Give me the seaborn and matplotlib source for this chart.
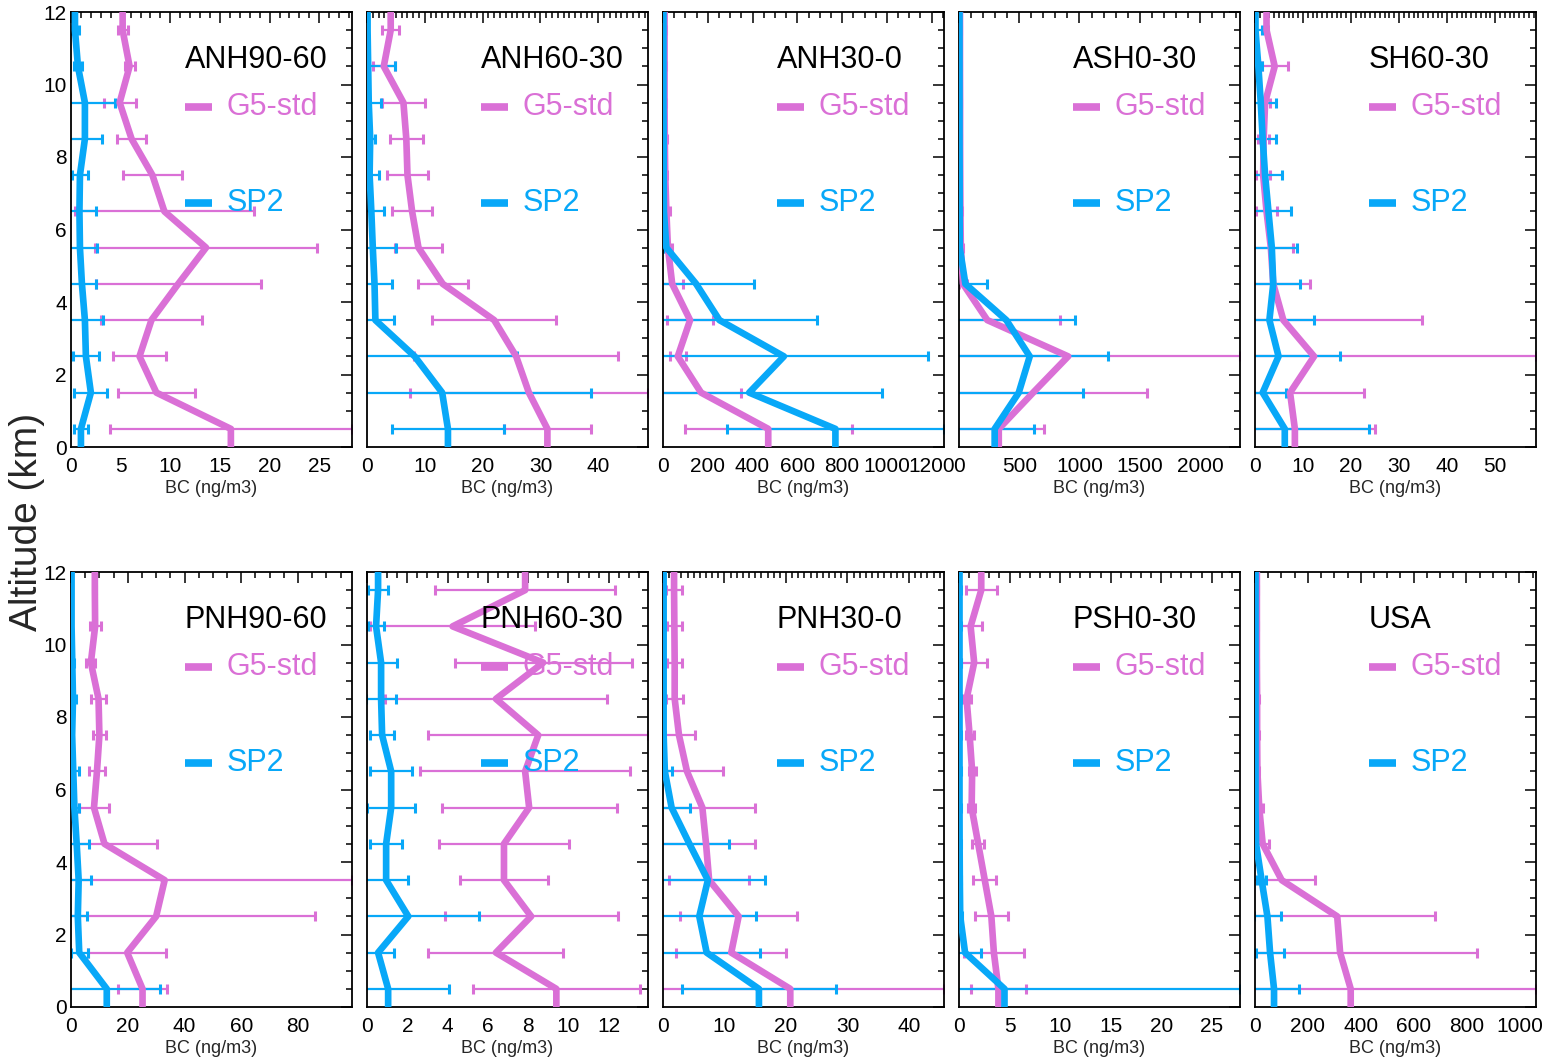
import matplotlib
matplotlib.use("Agg")
import matplotlib.pyplot as plt
from matplotlib.ticker import MultipleLocator, AutoMinorLocator
import pandas as pd
import seaborn as sns

# Altitude bin centres (km), bottom to top
ALT_KM = [0.5, 1.5, 2.5, 3.5, 4.5, 5.5, 6.5, 7.5, 8.5, 9.5, 10.5, 11.5]

REGIONS = ["ANH90-60", "ANH60-30", "ANH30-0", "ASH0-30", "SH60-30",
           "PNH90-60", "PNH60-30", "PNH30-0", "PSH0-30", "USA"]

# ---- GEOS-5 standard run: mean and standard deviation (ng/m3) ----
G5_ANH90_60 = [16.1, 8.6, 6.9, 8.1, 10.8, 13.6, 9.4, 8.2, 6.1, 4.9, 5.9, 5.2]
G5_ANH90_60_SD = [12.2, 3.9, 2.65, 5.1, 8.3, 11.2, 9.0, 3.0, 1.5, 1.6, 0.5, 0.5]
G5_ANH60_30 = [31.2, 28.0, 25.8, 22.0, 13.1, 8.9, 7.8, 7.0, 6.8, 6.3, 2.9, 4.1]
G5_ANH60_30_SD = [7.5, 20.6, 17.6, 10.75, 4.35, 4.0, 3.5, 3.5, 2.9, 3.7, 1.9, 1.5]
G5_ANH30_0 = [470, 170, 66, 121, 41, 22, 15, 10, 8, 7, 7, 7]
G5_ANH30_0_SD = [372, 178, 35, 104, 48, 20, 15, 10, 8, 7, 7, 7]
G5_ASH0_30 = [330, 615, 906, 235, 33, 15, 12, 10, 9, 9, 8, 8]
G5_ASH0_30_SD = [376, 947, 1426, 601, 30, 15, 10, 10, 8, 8, 8, 8]
G5_SH60_30 = [8.3, 7.3, 12.3, 5.9, 3.8, 3.3, 2.4, 1.7, 1.8, 2.1, 4.1, 2.4]
G5_SH60_30_SD = [16.7, 15.4, 46.2, 28.8, 7.7, 4.7, 2.1, 1.4, 1.1, 1.0, 2.7, 0.3]
G5_PNH90_60 = [25.2, 19.8, 30.0, 33.0, 11.8, 8.1, 9.15, 10.0, 9.7, 7.0, 8.5, 8.4]
G5_PNH90_60_SD = [8.5, 13.7, 55.9, 66.0, 18.4, 5.2, 2.95, 2.2, 2.6, 1.6, 1.9, 0.3]
G5_PNH60_30 = [9.4, 6.4, 8.15, 6.8, 6.8, 8.05, 7.85, 8.5, 6.4, 8.75, 4.25, 7.85]
G5_PNH60_30_SD = [4.15, 3.35, 4.3, 2.2, 3.25, 4.35, 5.2, 5.45, 5.5, 4.4, 4.1, 4.45]
G5_PNH30_0 = [20.7, 11.1, 12.3, 7.5, 7.0, 6.4, 3.9, 2.6, 1.9, 1.9, 1.85, 1.8]
G5_PNH30_0_SD = [25.0, 8.95, 9.5, 6.5, 7.9, 8.5, 5.9, 2.6, 1.4, 1.2, 1.2, 1.3]
G5_PSH0_30 = [3.9, 3.45, 3.2, 2.55, 1.9, 1.25, 1.3, 1.05, 0.75, 1.5, 1.15, 2.2]
G5_PSH0_30_SD = [2.7, 3.0, 1.6, 1.15, 0.6, 0.35, 0.35, 0.4, 0.45, 1.3, 1.1, 1.55]
G5_USA = [362, 322, 311, 101, 29, 16, 9, 8, 8, 7, 7, 7]
G5_USA_SD = [701, 519, 370, 126, 25, 13, 8, 6, 6, 5, 5, 5]

# ---- SP2 observations: mean and standard deviation (ng/m3) ----
SP2_ANH90_60 = [1.0, 2.0, 1.5, 1.4, 1.1, 0.9, 0.85, 0.9, 1.4, 1.4, 0.7, 0.4]
SP2_ANH90_60_SD = [0.7, 1.65, 1.3, 1.8, 1.4, 1.7, 1.65, 0.8, 1.7, 3.0, 0.4, 0.4]
SP2_ANH60_30 = [14.0, 13.0, 8.25, 1.45, 1.3, 1.0, 0.75, 0.45, 0.55, 0.3, 0.2, 0.1]
SP2_ANH60_30_SD = [9.7, 25.7, 17.7, 3.2, 3.0, 4.1, 2.2, 1.55, 0.75, 2.2, 4.7, 0.1]
SP2_ANH30_0 = [770, 385, 540, 252, 148, 15, 4, 3, 3, 2, 2, 2]
SP2_ANH30_0_SD = [485, 593, 642, 437, 259, 12, 4, 3, 3, 2, 2, 2]
SP2_ASH0_30 = [296, 496, 587, 393, 53, 6, 5, 5, 4, 4, 4, 4]
SP2_ASH0_30_SD = [327, 529, 646, 568, 182, 6, 5, 5, 4, 4, 4, 4]
SP2_SH60_30 = [6.2, 1.6, 4.9, 3.0, 3.8, 3.5, 2.8, 2.1, 1.6, 1.2, 0.7, 0.1]
SP2_SH60_30_SD = [17.6, 4.9, 12.7, 9.3, 5.6, 5.2, 4.6, 3.5, 2.8, 3.2, 0.7, 1.3]
SP2_PNH90_60 = [12.6, 2.9, 2.4, 2.7, 2.0, 1.2, 0.8, 0.4, 0.7, 0.45, 0.2, 0.2]
SP2_PNH90_60_SD = [18.6, 3.0, 3.1, 4.4, 4.2, 1.7, 2.0, 0.3, 1.0, 0.6, 0.2, 0.2]
SP2_PNH60_30 = [1.05, 0.55, 2.05, 0.95, 0.95, 1.2, 1.2, 0.75, 0.7, 0.7, 0.45, 0.55]
SP2_PNH60_30_SD = [3.0, 0.8, 3.5, 1.1, 0.8, 1.2, 1.05, 0.6, 0.75, 0.8, 0.4, 0.5]
SP2_PNH30_0 = [15.6, 7.1, 5.9, 7.3, 4.3, 1.4, 0.3, 0.1, 0.1, 0.1, 0.1, 0.1]
SP2_PNH30_0_SD = [12.5, 8.7, 9.3, 9.3, 6.5, 2.95, 1.2, 0.2, 0.2, 0.2, 0.2, 0.2]
SP2_PSH0_30 = [4.5, 0.6, 0.12, 0.08, 0.06, 0.05, 0.05, 0.05, 0.05, 0.05, 0.05, 0.05]
SP2_PSH0_30_SD = [23.3, 1.55, 0.2, 0.1, 0.1, 0.1, 0.1, 0.1, 0.1, 0.1, 0.1, 0.1]
SP2_USA = [72, 57, 47, 25, 4, 2, 2, 2, 2, 2, 2, 2]
SP2_USA_SD = [96, 53, 50, 17, 4, 2, 2, 2, 2, 2, 2, 2]

G5_MEANS = [G5_ANH90_60, G5_ANH60_30, G5_ANH30_0, G5_ASH0_30, G5_SH60_30,
            G5_PNH90_60, G5_PNH60_30, G5_PNH30_0, G5_PSH0_30, G5_USA]
G5_SDS = [G5_ANH90_60_SD, G5_ANH60_30_SD, G5_ANH30_0_SD, G5_ASH0_30_SD, G5_SH60_30_SD,
          G5_PNH90_60_SD, G5_PNH60_30_SD, G5_PNH30_0_SD, G5_PSH0_30_SD, G5_USA_SD]
SP2_MEANS = [SP2_ANH90_60, SP2_ANH60_30, SP2_ANH30_0, SP2_ASH0_30, SP2_SH60_30,
             SP2_PNH90_60, SP2_PNH60_30, SP2_PNH30_0, SP2_PSH0_30, SP2_USA]
SP2_SDS = [SP2_ANH90_60_SD, SP2_ANH60_30_SD, SP2_ANH30_0_SD, SP2_ASH0_30_SD, SP2_SH60_30_SD,
           SP2_PNH90_60_SD, SP2_PNH60_30_SD, SP2_PNH30_0_SD, SP2_PSH0_30_SD, SP2_USA_SD]

# x-axis tick spacing and number of minor intervals per panel
X_MAJOR_STEP = [5, 10, 200, 500, 10, 20, 2, 10, 5, 200]
X_MINOR_DIV = [5, 10, 4, 5, 10, 4, 4, 10, 5, 4]

G5_COLOR = "#DA70D6"
SP2_COLOR = "#08A8F8"

sns.set_style("white")
plt.rcParams["font.family"] = ["Liberation Sans", "DejaVu Sans"]

W, H = 1545, 1060
fig = plt.figure(figsize=(W / 100, H / 100), dpi=100)

col_left = [71, 367, 663, 959, 1255]
ax_w = 281
row_top = [12, 572]
ax_h = 435


def profile_frame(values):
    """Extend a binned profile to the surface and to the 12 km lid."""
    alt = [0.0] + ALT_KM + [12.0]
    bc = [values[0]] + list(values) + [values[-1]]
    return pd.DataFrame({"alt": alt, "bc": bc})


for i, region in enumerate(REGIONS):
    r, c = divmod(i, 5)
    ax = fig.add_axes([col_left[c] / W, 1 - (row_top[r] + ax_h) / H, ax_w / W, ax_h / H])

    g5, g5sd = G5_MEANS[i], G5_SDS[i]
    sp, spsd = SP2_MEANS[i], SP2_SDS[i]

    # horizontal +/- 1 sigma bars
    ax.errorbar(g5, ALT_KM, xerr=g5sd, fmt="none", ecolor=G5_COLOR,
                elinewidth=1.6, capsize=3.5, capthick=2.2, zorder=2)
    ax.errorbar(sp, ALT_KM, xerr=spsd, fmt="none", ecolor=SP2_COLOR,
                elinewidth=1.6, capsize=3.5, capthick=2.2, zorder=2.5)

    # mean profiles
    sns.lineplot(data=profile_frame(g5), x="bc", y="alt", orient="y", sort=False,
                 estimator=None, color=G5_COLOR, lw=4.8, ax=ax, zorder=3,
                 solid_capstyle="butt")
    sns.lineplot(data=profile_frame(sp), x="bc", y="alt", orient="y", sort=False,
                 estimator=None, color=SP2_COLOR, lw=4.8, ax=ax, zorder=3.5,
                 solid_capstyle="butt")

    xmax = max(max(m + s for m, s in zip(g5, g5sd)),
               max(m + s for m, s in zip(sp, spsd)))
    ax.set_xlim(0, xmax)
    ax.set_ylim(0, 12)

    ax.xaxis.set_major_locator(MultipleLocator(X_MAJOR_STEP[i]))
    ax.xaxis.set_minor_locator(AutoMinorLocator(X_MINOR_DIV[i]))
    ax.yaxis.set_major_locator(MultipleLocator(2))
    ax.yaxis.set_minor_locator(AutoMinorLocator(4))
    ax.tick_params(which="both", direction="in", top=True, right=True,
                   width=1.1, colors="black")
    ax.tick_params(which="major", length=8)
    ax.tick_params(which="minor", length=4)
    ax.tick_params(axis="x", which="major", labelsize=15, pad=7)
    ax.tick_params(axis="y", which="major", labelsize=15, pad=3)
    if c != 0:
        ax.tick_params(axis="y", labelleft=False)

    ax.set_xlabel("BC (ng/m3)", fontsize=13, labelpad=3)
    ax.set_ylabel("")
    for sp_ in ax.spines.values():
        sp_.set_color("black")
        sp_.set_linewidth(1.3)

    # region name and in-panel key
    ax.text(0.405, 0.89, region, transform=ax.transAxes, fontsize=22,
            ha="left", va="center", color="black")
    ax.plot([0.405, 0.50], [0.781, 0.781], transform=ax.transAxes,
            color=G5_COLOR, lw=5.5, solid_capstyle="butt", zorder=5)
    ax.text(0.555, 0.781, "G5-std", transform=ax.transAxes, fontsize=22,
            ha="left", va="center", color=G5_COLOR, zorder=5)
    ax.plot([0.405, 0.50], [0.562, 0.562], transform=ax.transAxes,
            color=SP2_COLOR, lw=5.5, solid_capstyle="butt", zorder=5)
    ax.text(0.555, 0.562, "SP2", transform=ax.transAxes, fontsize=22,
            ha="left", va="center", color=SP2_COLOR, zorder=5)

fig.text(27 / W, 1 - 522 / H, "Altitude (km)", rotation=90, fontsize=28,
         ha="center", va="center")

fig.savefig("out.png", dpi=100)
